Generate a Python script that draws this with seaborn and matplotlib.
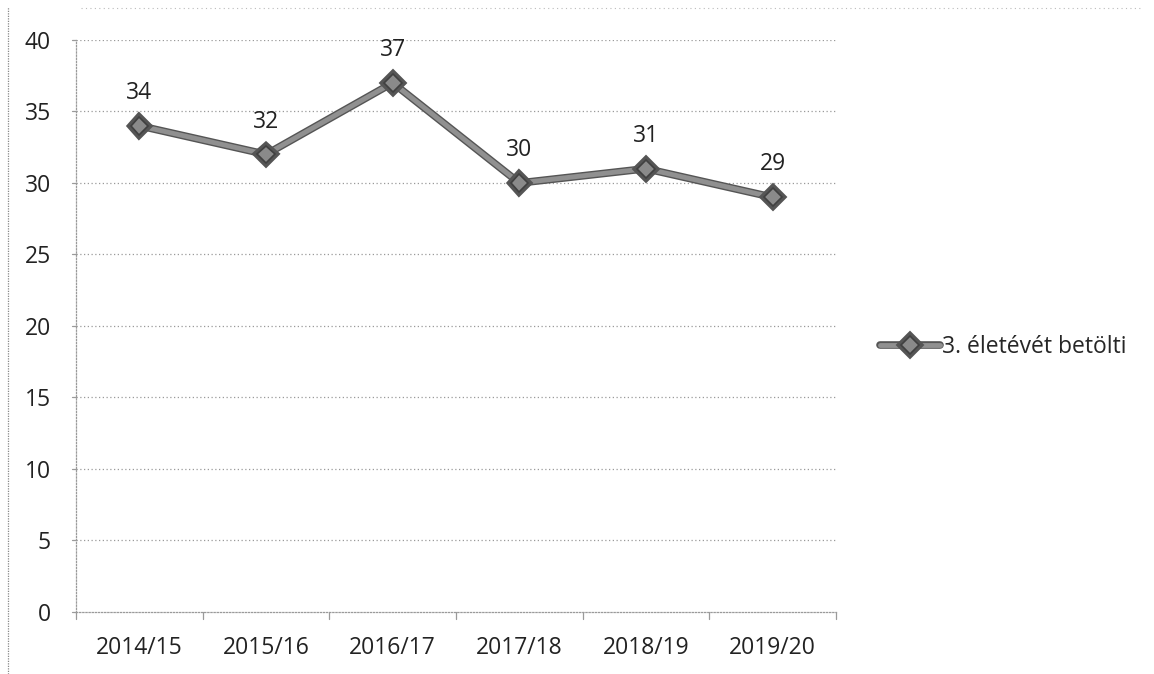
import matplotlib
matplotlib.use("Agg")
import matplotlib.pyplot as plt
import matplotlib.patheffects as pe
import seaborn as sns
import pandas as pd
from matplotlib.lines import Line2D

categories = ["2014/15", "2015/16", "2016/17", "2017/18", "2018/19", "2019/20"]
values = [34, 32, 37, 30, 31, 29]
series_name = "3. életévét betölti"
yticks = [0, 5, 10, 15, 20, 25, 30, 35, 40]

sns.set_theme(style="white")
plt.rcParams['font.family'] = ['Open Sans', 'DejaVu Sans']

df = pd.DataFrame({"cat": categories, "val": values, "s": series_name})
df["x"] = range(len(categories))

fig = plt.figure(figsize=(11.54, 6.74), dpi=100)
ax = fig.add_axes([0.0659, 0.092, 0.6586, 0.8487])

FS = 16.5
stroke = [pe.Stroke(linewidth=5.5, foreground="#555555"), pe.Normal()]

sns.lineplot(data=df, x="x", y="val", ax=ax, color="#909090", linewidth=3.5,
             marker="D", markersize=9, markerfacecolor="#8a8a8a",
             markeredgecolor="#404040", markeredgewidth=1.2, legend=False)
for ln in ax.lines:
    ln.set_path_effects(stroke)

for x, v in zip(df["x"], df["val"]):
    ax.annotate(str(v), (x, v), xytext=(0, 15), textcoords="offset points",
                ha="center", va="bottom", fontsize=FS, color="#222222")

ax.set_xlim(-0.5, len(categories) - 0.5)
ax.set_ylim(0, 40)
ax.set_yticks(yticks)
ax.set_yticklabels([str(t) for t in yticks], fontsize=FS, color="#222222")
ax.set_xticks(range(len(categories)))
ax.set_xticklabels(categories, fontsize=FS, color="#222222")
ax.tick_params(axis="x", length=0, pad=17)
ax.tick_params(axis="y", length=0, pad=18)
ax.set_xlabel("")
ax.set_ylabel("")

for t in yticks[1:]:
    ax.axhline(t, color="#9a9a9a", linestyle=(0, (1, 2)), linewidth=0.9, zorder=0)
for s in ["top", "right"]:
    ax.spines[s].set_visible(False)
for s in ["left", "bottom"]:
    ax.spines[s].set_color("#9a9a9a")
    ax.spines[s].set_linestyle((0, (1, 1.5)))
    ax.spines[s].set_linewidth(0.9)

for b in range(len(categories) + 1):
    ax.plot([b - 0.5, b - 0.5], [0, -0.5], color="#9a9a9a", lw=0.9, clip_on=False)
for t in yticks:
    ax.plot([-0.5 - 0.03, -0.5], [t, t], color="#9a9a9a", lw=0.9, clip_on=False)

handle = Line2D([], [], color="#909090", linewidth=3.5, marker="D", markersize=9,
                markerfacecolor="#8a8a8a", markeredgecolor="#404040",
                markeredgewidth=1.2, path_effects=stroke)
fig.legend([handle], [series_name], loc="center left", bbox_to_anchor=(0.745, 0.485),
           frameon=False, fontsize=FS, handlelength=2.6, handletextpad=0.1)

# scanned page border
fig.add_artist(Line2D([0.007, 0.007], [0.0, 0.99], transform=fig.transFigure,
                      color="#888888", lw=0.9, linestyle=(0, (1, 1))))
fig.add_artist(Line2D([0.07, 0.99], [0.988, 0.988], transform=fig.transFigure,
                      color="#bbbbbb", lw=0.8, linestyle=(0, (1, 3))))

fig.savefig("out.png", dpi=100)
